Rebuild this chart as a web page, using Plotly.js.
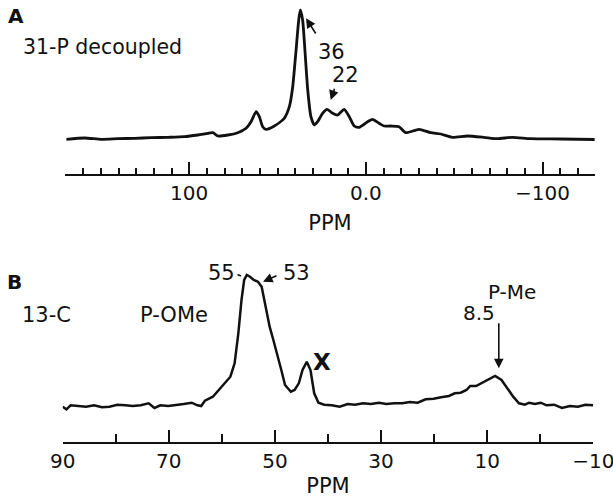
<!DOCTYPE html>
<html>
<head>
<meta charset="utf-8">
<script src="https://cdn.plot.ly/plotly-3.0.1.min.js"></script>
<style>html,body{margin:0;padding:0;background:#fff;}#chart{width:613px;height:500px;}</style>
</head>
<body>
<div id="chart"></div>
<script>
// Panel A: 31-P decoupled spectrum (ppm, relative intensity)
const ppmA = [169.5,159.2,149.7,140.3,130.9,121.5,112.0,102.7,95.1,89.4,86.6,83.8,78.1,72.5,67.8,65.0,62.1,60.3,58.4,56.5,51.8,46.2,43.3,41.4,39.5,38.0,37.1,35.8,34.5,32.9,31.1,29.2,27.3,24.5,22.0,18.8,16.0,12.3,9.4,6.6,3.8,-1.0,-3.8,-7.5,-10.3,-14.1,-18.8,-22.6,-30.1,-36.7,-42.4,-49.0,-57.5,-66.8,-74.4,-82.9,-93.2,-110.2,-129.5];
const intA = [0.2,1.5,0.2,0.8,1.2,1.8,2.2,2.8,4.5,6.2,6.8,3.5,4.5,6.8,11.2,17.8,27.8,22.8,12.8,10.2,13.5,21.2,32.8,52.8,89.5,119.5,129.5,119.5,89.5,49.5,22.8,14.5,17.8,26.2,30.2,26.2,24.5,30.2,22.8,13.5,12.2,17.8,20.2,16.2,13.5,13.5,12.8,6.8,10.2,6.8,5.5,2.2,3.5,2.2,0.8,2.2,0.8,0.5,0];

// Panel B: 13-C spectrum
const ppmB = [90.0,89.3,88.5,87.1,85.6,84.1,82.6,81.2,79.7,78.2,76.8,75.3,73.8,72.7,71.6,70.1,68.7,67.2,65.7,64.6,63.9,63.2,61.7,60.6,59.5,58.4,57.6,56.9,56.3,55.8,55.3,54.7,54.0,53.2,52.5,51.8,51.0,50.3,49.6,48.8,48.1,47.0,46.3,45.5,44.8,44.0,43.3,42.6,41.8,40.7,39.3,37.8,36.3,34.9,33.4,31.9,30.4,29.0,27.5,26.0,24.6,23.1,21.6,20.1,18.7,17.2,16.1,15.0,13.9,13.2,12.1,10.6,9.5,8.5,7.3,6.2,5.1,4.0,2.9,2.1,1.0,-0.1,-1.2,-2.6,-4.1,-5.6,-7.1,-8.5,-10.0];
const intB = [-0.7,-3.3,0.7,0,-0.7,0.7,-1.3,-0.7,1.3,0.7,0,0.7,2.7,-2,0.7,0,0.7,2,3.3,0.7,0,5.3,9.3,16,22,29.3,42.7,72.7,106,126,131,129.3,126,124.3,119.3,99.3,79.3,66,52.7,36,21,14.3,16,22.7,36,44.3,36,12.7,3.3,1.3,0.7,-0.7,2,1.3,2.7,2,3.3,2,2.7,2.7,4,3.3,6.7,7.3,8.7,10,12.7,13.3,16,20,20,24.3,27.7,30,26,17.7,9.3,2.7,1.3,3.3,2,3.3,0.7,1.3,-2,0,-0.7,1.3,0.7];

// Labels
const panelLabels = ['A', 'B'];
const nucleusLabels = ['31-P decoupled', '13-C'];
const peakLabelsA = ['36', '22'];
const peakLabelsB = ['55', '53', 'X', '8.5'];
const groupLabelsB = ['P-OMe', 'P-Me'];
const axisTitle = 'PPM';

const FONT = '"DejaVu Sans", Arial, Helvetica, sans-serif';
const INK = '#111';
const W = 613, H = 500;
const px = x => x / W;
const py = y => 1 - y / H;

const traces = [
  {x: ppmA, y: intA, xaxis: 'x', yaxis: 'y', mode: 'lines', line: {color: INK, width: 2.8, shape: 'spline', smoothing: 0.6}, hoverinfo: 'skip'},
  {x: ppmB, y: intB, xaxis: 'x2', yaxis: 'y2', mode: 'lines', line: {color: INK, width: 2.5}, hoverinfo: 'skip'}
];

function txt(t, x, y, size, extra) {
  return Object.assign({text: t, xref: 'paper', yref: 'paper', x: px(x), y: py(y), xanchor: 'center', yanchor: 'middle', showarrow: false, font: {family: FONT, size: size, color: INK}}, extra || {});
}
function arrow(hx, hy, tx, ty, head) {
  return {text: '', xref: 'paper', yref: 'paper', x: px(hx), y: py(hy), ax: tx - hx, ay: ty - hy, axref: 'pixel', ayref: 'pixel', showarrow: true, arrowhead: head, arrowsize: 1.2, arrowwidth: 1.6, arrowcolor: INK, standoff: 0, startstandoff: 0};
}
const bold = size => ({font: {family: FONT, size: size, color: INK, weight: 'bold'}});

const annotations = [
  txt(panelLabels[0], 15.5, 15.5, 20, bold(20)),
  txt(nucleusLabels[0], 102.5, 46.7, 20.5),
  txt(peakLabelsA[0], 331, 52.5, 21),
  arrow(306, 18.3, 316.7, 35, 2),
  txt(peakLabelsA[1], 345, 75, 21),
  arrow(330.7, 100, 335, 87.3, 2),
  txt(panelLabels[1], 14, 281.7, 20, bold(20)),
  txt(nucleusLabels[1], 46, 315, 21),
  txt(groupLabelsB[0], 173.5, 315, 21),
  txt(peakLabelsB[0], 221.7, 273.3, 21),
  arrow(241, 276, 236, 274, 0),
  txt(peakLabelsB[1], 296, 273.3, 21),
  arrow(263, 281.7, 278, 275, 2),
  txt(peakLabelsB[2], 321.6, 361.7, 23, bold(23)),
  txt(groupLabelsB[1], 511.8, 291.7, 20),
  txt(peakLabelsB[3], 479, 312.7, 20),
  arrow(498.8, 368.3, 498.8, 321.7, 2)
];

const axisCommon = {
  tickmode: 'linear', ticks: 'inside', tickwidth: 2, tickcolor: INK,
  showline: true, linewidth: 2, linecolor: INK, showgrid: false, zeroline: false,
  ticklabeloverflow: 'allow',
  tickfont: {family: FONT, size: 20, color: INK}, fixedrange: true
};

const layout = {
  width: W, height: H, margin: {l: 0, r: 0, t: 0, b: 0},
  paper_bgcolor: '#fff', plot_bgcolor: '#fff', showlegend: false,
  font: {family: FONT, size: 20, color: INK},
  xaxis: Object.assign({}, axisCommon, {
    domain: [65 / W, 595 / W], range: [170.3, -129.7], anchor: 'y',
    tick0: 0, dtick: 100, ticklen: 12, labelalias: {'0': '0.0'},
    minor: {tickmode: 'linear', tick0: 0, dtick: 10, ticks: 'inside', ticklen: 6, tickwidth: 2, tickcolor: INK, showgrid: false},
    title: {text: axisTitle, font: {family: FONT, size: 21, color: INK}, standoff: 11}
  }),
  yaxis: {domain: [1 - 174 / H, 1 - 5 / H], range: [-34.5, 134.5], visible: false, fixedrange: true},
  xaxis2: Object.assign({}, axisCommon, {
    domain: [62.7 / W, 593.3 / W], range: [90, -10], anchor: 'y2',
    tick0: 10, dtick: 20, ticklen: 12,
    minor: {tickmode: 'linear', tick0: 0, dtick: 10, ticks: 'inside', ticklen: 8, tickwidth: 2, tickcolor: INK, showgrid: false},
    title: {text: axisTitle, font: {family: FONT, size: 21, color: INK}, standoff: 7}
  }),
  yaxis2: {domain: [1 - 441.7 / H, 1 - 270 / H], range: [-35.7, 136], visible: false, fixedrange: true},
  annotations: annotations
};

Plotly.newPlot('chart', traces, layout, {staticPlot: true, displayModeBar: false});
</script>
</body>
</html>
